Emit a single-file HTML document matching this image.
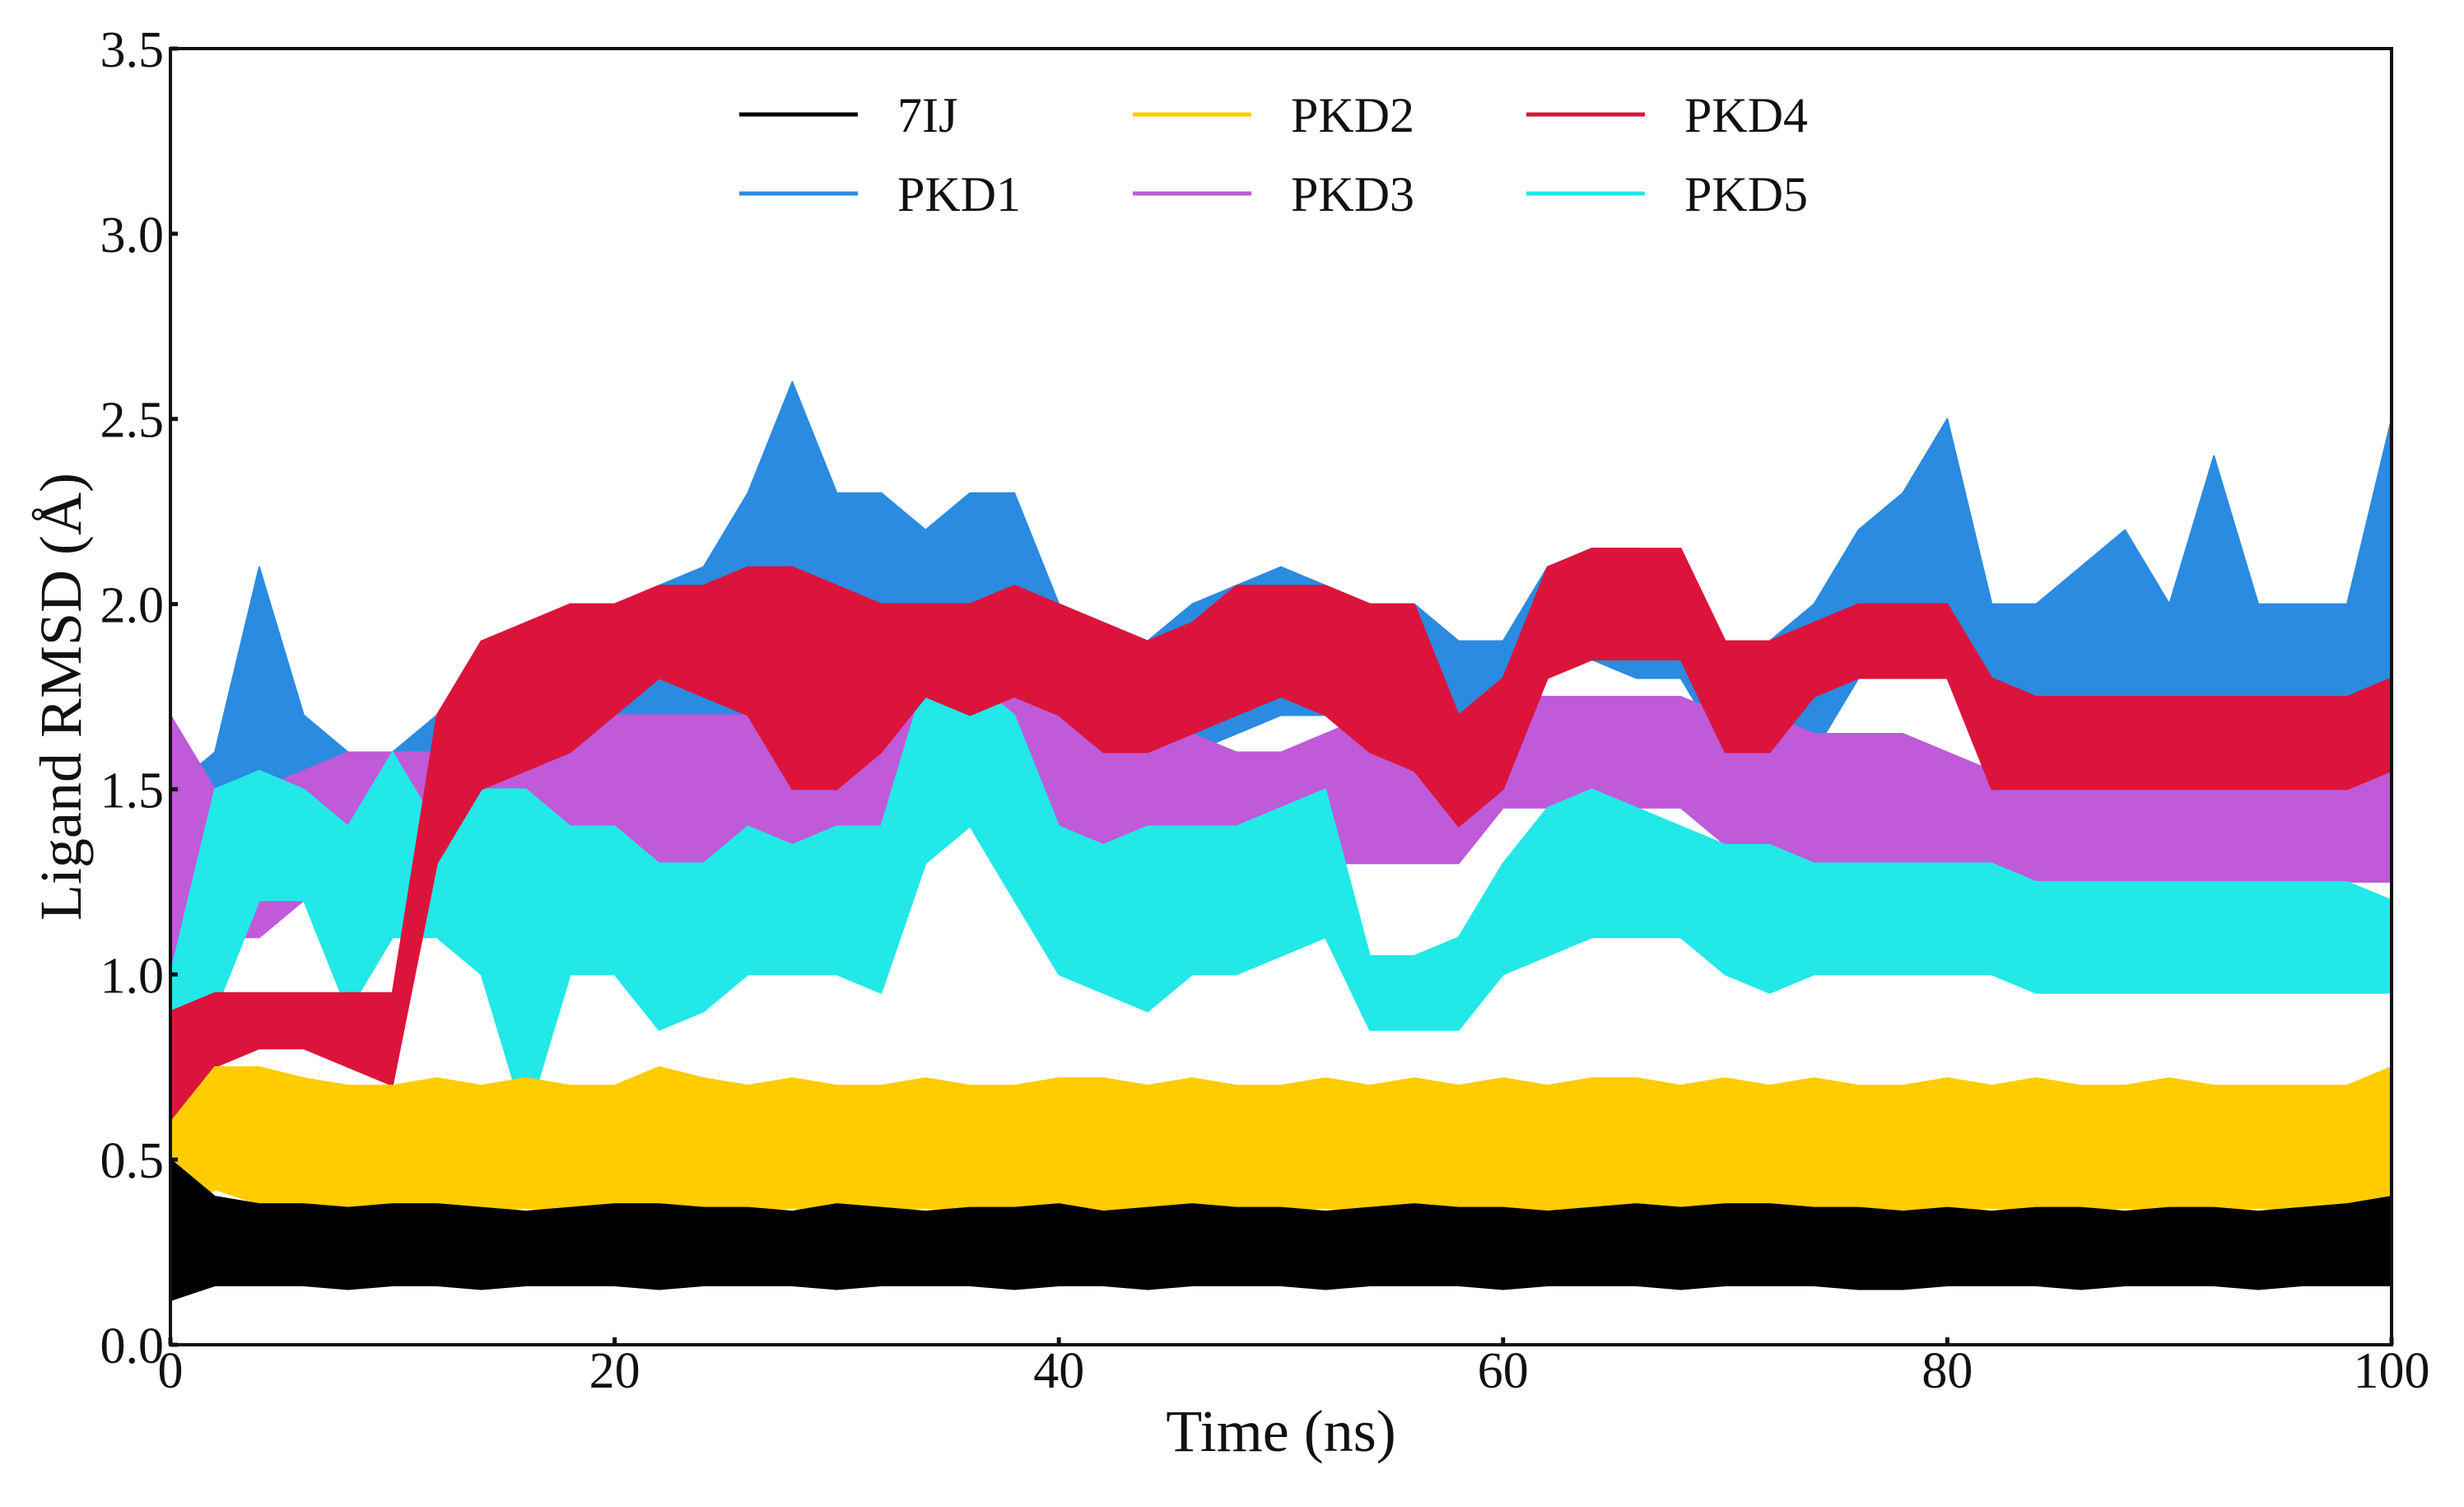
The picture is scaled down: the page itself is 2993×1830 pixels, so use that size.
<!DOCTYPE html>
<html><head><meta charset="utf-8"><style>
html,body{margin:0;padding:0;background:#fff;}
svg{display:block;font-family:"Liberation Serif",serif;}
</style></head><body>
<svg id="chart" width="2993" height="1830" viewBox="0 0 2993 1830" xmlns="http://www.w3.org/2000/svg">
<g id="series"></g>
<g id="axes"></g>
<g id="legend"></g>
</svg>
<script>
const xTicks = [0,20,40,60,80,100];
const yTicks = [0.0,0.5,1.0,1.5,2.0,2.5,3.0,3.5];
const yTickLabels = ["0.0","0.5","1.0","1.5","2.0","2.5","3.0","3.5"];
const seriesNames = ["PKD1","PKD3","PKD5","PKD4","PKD2","7IJ"];
const seriesColors = ["#2a8be0","#bf5ad9","#22e8e8","#dc143c","#ffcc00","#000000"];
const blueLo = [0.8,1.2,1.5,1.3,1.3,1.3,1.4,1.5,1.5,1.6,1.6,1.6,1.6,1.7,2.0,1.9,1.9,1.9,1.9,1.8,1.7,1.6,1.6,1.6,1.65,1.7,1.7,1.6,1.6,1.6,1.6,1.8,1.85,1.8,1.8,1.6,1.6,1.6,1.8,1.9,2.0,1.6,1.6,1.6,1.6,1.6,1.7,1.6,1.6,1.6,1.7];
const blueHi = [1.5,1.6,2.1,1.7,1.6,1.6,1.7,1.9,1.9,2.0,2.0,2.05,2.1,2.3,2.6,2.3,2.3,2.2,2.3,2.3,2.0,1.95,1.9,2.0,2.05,2.1,2.05,2.0,2.0,1.9,1.9,2.1,2.15,2.15,2.1,1.9,1.9,2.0,2.2,2.3,2.5,2.0,2.0,2.1,2.2,2.0,2.4,2.0,2.0,2.0,2.5];
const purpleLo = [1.0,1.1,1.1,1.2,1.2,1.2,1.2,1.3,1.3,1.3,1.3,1.3,1.3,1.3,1.35,1.4,1.4,1.4,1.4,1.4,1.35,1.3,1.3,1.3,1.3,1.3,1.3,1.3,1.3,1.3,1.45,1.45,1.45,1.45,1.45,1.35,1.35,1.3,1.3,1.3,1.3,1.25,1.25,1.25,1.25,1.25,1.25,1.25,1.25,1.25,1.25];
const purpleHi = [1.7,1.5,1.5,1.55,1.6,1.6,1.6,1.7,1.7,1.7,1.7,1.7,1.7,1.7,1.75,1.8,1.8,1.8,1.8,1.8,1.75,1.7,1.7,1.65,1.6,1.6,1.65,1.7,1.7,1.7,1.75,1.75,1.75,1.75,1.75,1.7,1.7,1.65,1.65,1.65,1.6,1.55,1.55,1.55,1.55,1.55,1.55,1.55,1.55,1.55,1.55];
const cyanLo = [0.4,0.9,1.2,1.2,0.9,1.1,1.1,1.0,0.6,1.0,1.0,0.85,0.9,1.0,1.0,1.0,0.95,1.3,1.4,1.2,1.0,0.95,0.9,1.0,1.0,1.05,1.1,0.85,0.85,0.85,1.0,1.05,1.1,1.1,1.1,1.0,0.95,1.0,1.0,1.0,1.0,1.0,0.95,0.95,0.95,0.95,0.95,0.95,0.95,0.95,0.95];
const cyanHi = [1.0,1.5,1.55,1.5,1.4,1.6,1.4,1.5,1.5,1.4,1.4,1.3,1.3,1.4,1.35,1.4,1.4,1.8,1.8,1.7,1.4,1.35,1.4,1.4,1.4,1.45,1.5,1.05,1.05,1.1,1.3,1.45,1.5,1.45,1.4,1.35,1.35,1.3,1.3,1.3,1.3,1.3,1.25,1.25,1.25,1.25,1.25,1.25,1.25,1.25,1.2];
const redLo = [0.5,0.75,0.8,0.8,0.75,0.7,1.3,1.5,1.55,1.6,1.7,1.8,1.75,1.7,1.5,1.5,1.6,1.75,1.7,1.75,1.7,1.6,1.6,1.65,1.7,1.75,1.7,1.6,1.55,1.4,1.5,1.8,1.85,1.85,1.85,1.6,1.6,1.75,1.8,1.8,1.8,1.5,1.5,1.5,1.5,1.5,1.5,1.5,1.5,1.5,1.55];
const redHi = [0.9,0.95,0.95,0.95,0.95,0.95,1.7,1.9,1.95,2.0,2.0,2.05,2.05,2.1,2.1,2.05,2.0,2.0,2.0,2.05,2.0,1.95,1.9,1.95,2.05,2.05,2.05,2.0,2.0,1.7,1.8,2.1,2.15,2.15,2.15,1.9,1.9,1.95,2.0,2.0,2.0,1.8,1.75,1.75,1.75,1.75,1.75,1.75,1.75,1.75,1.8];
const yellowLo = [0.3,0.42,0.38,0.36,0.36,0.37,0.36,0.36,0.37,0.36,0.36,0.37,0.36,0.36,0.37,0.36,0.36,0.37,0.36,0.36,0.37,0.36,0.36,0.37,0.36,0.36,0.37,0.36,0.36,0.37,0.36,0.36,0.37,0.36,0.36,0.37,0.36,0.36,0.37,0.36,0.36,0.37,0.36,0.36,0.37,0.36,0.36,0.37,0.36,0.36,0.38];
const yellowHi = [0.6,0.75,0.75,0.72,0.7,0.7,0.72,0.7,0.72,0.7,0.7,0.75,0.72,0.7,0.72,0.7,0.7,0.72,0.7,0.7,0.72,0.72,0.7,0.72,0.7,0.7,0.72,0.7,0.72,0.7,0.72,0.7,0.72,0.72,0.7,0.72,0.7,0.72,0.7,0.7,0.72,0.7,0.72,0.7,0.7,0.72,0.7,0.7,0.7,0.7,0.75];
const blackLo = [0.12,0.16,0.16,0.16,0.15,0.16,0.16,0.15,0.16,0.16,0.16,0.15,0.16,0.16,0.16,0.15,0.16,0.16,0.16,0.15,0.16,0.16,0.15,0.16,0.16,0.16,0.15,0.16,0.16,0.16,0.15,0.16,0.16,0.16,0.15,0.16,0.16,0.16,0.15,0.15,0.16,0.16,0.16,0.15,0.16,0.16,0.16,0.15,0.16,0.16,0.16];
const blackHi = [0.5,0.4,0.38,0.38,0.37,0.38,0.38,0.37,0.36,0.37,0.38,0.38,0.37,0.37,0.36,0.38,0.37,0.36,0.37,0.37,0.38,0.36,0.37,0.38,0.37,0.37,0.36,0.37,0.38,0.37,0.37,0.36,0.37,0.38,0.37,0.38,0.38,0.37,0.37,0.36,0.37,0.36,0.37,0.37,0.36,0.37,0.37,0.36,0.37,0.38,0.4];
const timeStep = 2;

const NS="http://www.w3.org/2000/svg";
const X0=207,X1=2905,Y0=1633,Y1=59;
function xs(t){return X0+(t/100)*(X1-X0);}
function ys(v){return Y0-(v/3.5)*(Y0-Y1);}
function mk(tag,attrs,parent){const e=document.createElementNS(NS,tag);for(const k in attrs)e.setAttribute(k,attrs[k]);parent.appendChild(e);return e;}

const bands=[[blueLo,blueHi],[purpleLo,purpleHi],[cyanLo,cyanHi],[redLo,redHi],[yellowLo,yellowHi],[blackLo,blackHi]];
const sg=document.getElementById('series');
bands.forEach((b,si)=>{
  const lo=b[0],hi=b[1],n=Math.min(lo.length,hi.length);
  const pts=[];
  for(let i=0;i<n;i++)pts.push(xs(i*timeStep).toFixed(1)+","+ys(hi[i]).toFixed(1));
  for(let i=n-1;i>=0;i--)pts.push(xs(i*timeStep).toFixed(1)+","+ys(lo[i]).toFixed(1));
  const p=mk('polygon',{points:pts.join(' '),fill:seriesColors[si],stroke:seriesColors[si],'stroke-width':2,'stroke-linejoin':'round'},sg);
  
  
});

const ax=document.getElementById('axes');
const frame=mk('rect',{x:X0,y:Y1,width:X1-X0,height:Y0-Y1,fill:'none',stroke:'#111','stroke-width':4},ax);


yTicks.forEach((v,i)=>{
  const y=ys(v);
  mk('line',{x1:X0,x2:X0+9,y1:y,y2:y,stroke:'#111','stroke-width':5},ax);
  const t=mk('text',{x:X0-8,y:y+22,'text-anchor':'end','font-size':62,fill:'#111'},ax);
  t.textContent=yTickLabels[i];
  
  
});
xTicks.forEach(v=>{
  const x=xs(v);
  mk('line',{x1:x,x2:x,y1:Y0,y2:Y0-9,stroke:'#111','stroke-width':5},ax);
  const t=mk('text',{x:x,y:Y0+52,'text-anchor':'middle','font-size':62,fill:'#111'},ax);
  t.textContent=String(v);
  
  
});
const xt=mk('text',{x:(X0+X1)/2,y:1762,'text-anchor':'middle','font-size':72,fill:'#111'},ax);
xt.textContent='Time (ns)';


const yt=mk('text',{x:0,y:0,'text-anchor':'middle','font-size':72,fill:'#111',transform:'translate(98,846) rotate(-90)'},ax);
yt.textContent='Ligand RMSD (Å)';



const legendNames=["7IJ","PKD2","PKD4","PKD1","PKD3","PKD5"];
const legendColors=["#000000","#ffcc00","#dc143c","#2a8be0","#bf5ad9","#22e8e8"];
const lg=document.getElementById('legend');
legendNames.forEach((nm,i)=>{
  const col=i%3,row=Math.floor(i/3);
  const lx=898+col*478,ly=139+row*96;
  const g=mk('g',{},lg);
  
  
  mk('line',{x1:lx,x2:lx+144,y1:ly,y2:ly,stroke:legendColors[i],'stroke-width':5},g);
  const t=mk('text',{x:lx+192,y:ly+21,'font-size':60,fill:'#111'},g);
  t.textContent=nm;
});
</script>
</body></html>
